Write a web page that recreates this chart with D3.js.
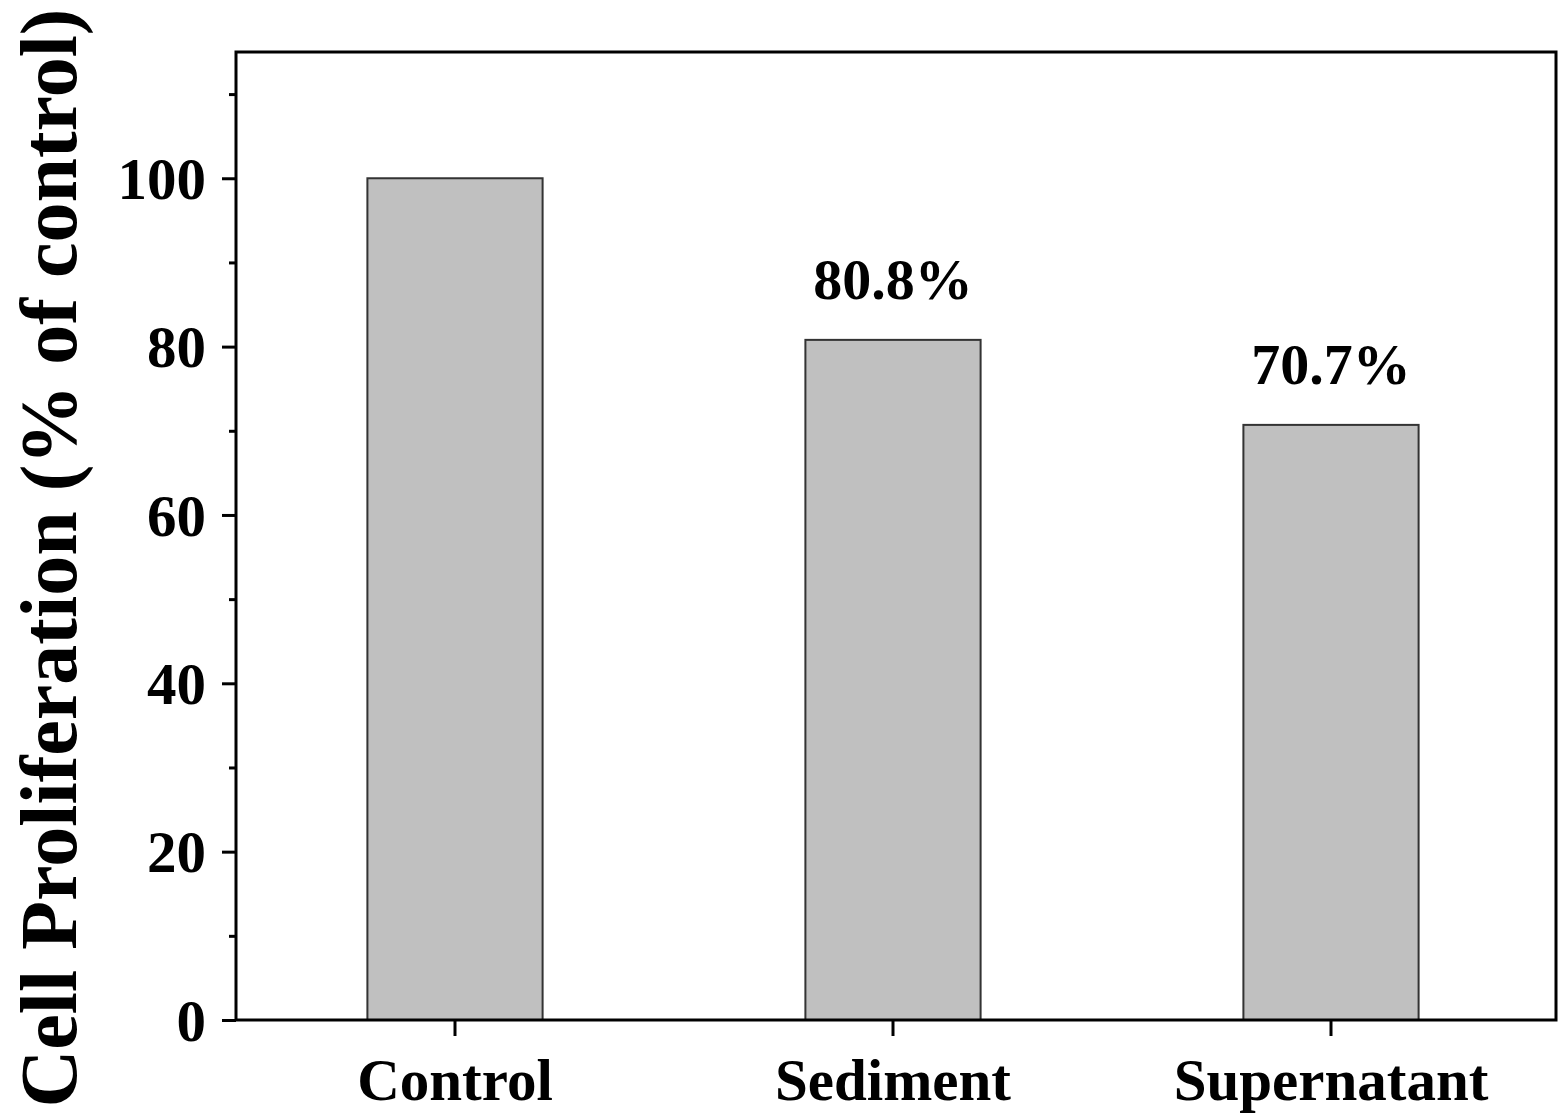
<!DOCTYPE html>
<html>
<head>
<meta charset="utf-8">
<script src="https://cdn.jsdelivr.net/npm/d3@7"></script>
<style>
html,body{margin:0;padding:0;background:#fff;}
svg text{font-family:"Liberation Serif","Times New Roman",serif;font-weight:bold;fill:#000;}
</style>
</head>
<body>
<script>
const categories = ["Control", "Sediment", "Supernatant"];
const values = [100, 80.8, 70.7];
const valueLabels = ["", "80.8%", "70.7%"];
const majorTicks = [0, 20, 40, 60, 80, 100];
const minorTicks = [10, 30, 50, 70, 90, 110];
const yTitle = "Cell Proliferation (% of control)";

const W = 1564, H = 1117;
const L = 236, R = 1556, T = 52, B = 1020;

const svg = d3.select("body").append("svg").attr("width", W).attr("height", H);

const x = d3.scaleBand().domain(categories).range([L, 1550]).paddingInner(0.6).paddingOuter(0.3);
const y = d3.scaleLinear().domain([0, 115]).range([B, T]);

// bars
svg.append("g").selectAll("rect").data(categories).join("rect")
  .attr("x", d => x(d))
  .attr("y", (d, i) => y(values[i]))
  .attr("width", x.bandwidth())
  .attr("height", (d, i) => B - y(values[i]))
  .attr("fill", "#c0c0c0")
  .attr("stroke", "#333")
  .attr("stroke-width", 2);

// value labels
svg.append("g").selectAll("text").data(categories).join("text")
  .attr("x", d => x(d) + x.bandwidth() / 2)
  .attr("y", (d, i) => y(values[i]) - 41)
  .attr("text-anchor", "middle")
  .attr("font-size", 58)
  .text((d, i) => valueLabels[i]);

// y axis major
const yAxis = d3.axisLeft(y).tickValues(majorTicks).tickSize(14).tickPadding(16).tickFormat(d3.format("d"));
const gy = svg.append("g").attr("transform", `translate(${L},0)`).call(yAxis);
gy.select(".domain").remove();
gy.selectAll(".tick line").attr("stroke", "#000").attr("stroke-width", 3);
gy.selectAll(".tick text").attr("font-size", 59).attr("font-family", '"Liberation Serif","Times New Roman",serif').attr("font-weight", "bold").attr("dy", "0.34em");

// y axis minor
const yMinor = d3.axisLeft(y).tickValues(minorTicks).tickSize(7).tickFormat("");
const gym = svg.append("g").attr("transform", `translate(${L},0)`).call(yMinor);
gym.select(".domain").remove();
gym.selectAll(".tick line").attr("stroke", "#000").attr("stroke-width", 3);

// x axis
const xAxis = d3.axisBottom(x).tickSize(16).tickPadding(22);
const gx = svg.append("g").attr("transform", `translate(0,${B})`).call(xAxis);
gx.select(".domain").remove();
gx.selectAll(".tick line").attr("stroke", "#000").attr("stroke-width", 3);
gx.selectAll(".tick text").attr("font-size", 59).attr("font-family", '"Liberation Serif","Times New Roman",serif').attr("font-weight", "bold").attr("dy", "0.71em");

// frame
svg.append("rect")
  .attr("x", L).attr("y", T).attr("width", R - L).attr("height", B - T)
  .attr("fill", "none").attr("stroke", "#000").attr("stroke-width", 3);

// y title
svg.append("text")
  .attr("transform", `translate(76,${(T + B) / 2 + 22}) rotate(-90)`)
  .attr("text-anchor", "middle")
  .attr("font-size", 80)
  .text(yTitle);
</script>
</body>
</html>
